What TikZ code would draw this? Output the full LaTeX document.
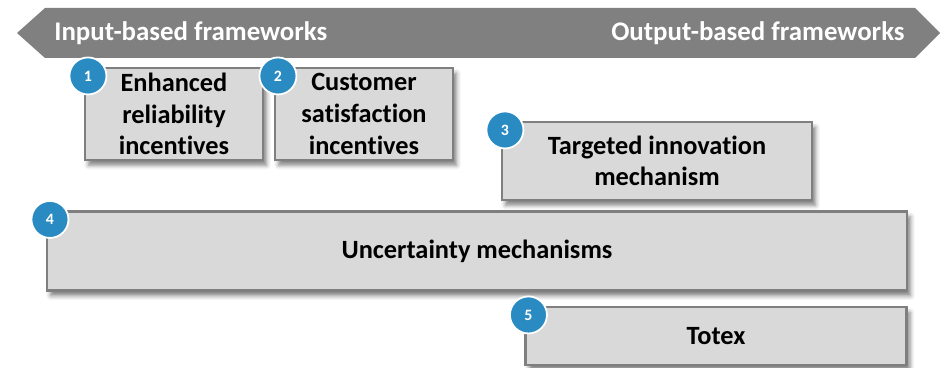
\documentclass[tikz,border=0pt]{standalone}
\usepackage{fontspec}
\setmainfont{Carlito}[Ligatures=NoCommon]
\usetikzlibrary{shadows.blur}
\definecolor{bannergray}{HTML}{808080}
\definecolor{boxgray}{HTML}{D9D9D9}
\definecolor{edgegray}{HTML}{7F7F7F}
\definecolor{badgeblue}{HTML}{2A8BC3}
\tikzstyle{lever} = [draw=edgegray, line width=1.2pt, fill=boxgray, align=center, inner sep=0pt,
  font=\fontsize{15}{18}\selectfont\bfseries,
  blur shadow={shadow xshift=2pt, shadow yshift=-3pt, shadow blur radius=2.5pt, shadow opacity=50}]
\tikzstyle{badge} = [circle, draw=white, line width=1pt, fill=badgeblue, minimum size=0.74cm, inner sep=0pt,
  text=white, font=\fontsize{9}{9}\selectfont\bfseries]
\tikzstyle{heading} = [text=white, inner sep=0pt, font=\fontsize{15.3}{18}\selectfont\bfseries]

\begin{document}
\begin{tikzpicture}[x=0.02cm, y=-0.02cm]
\useasboundingbox (0,0) rectangle (946,368);

% banner
\fill[bannergray] (45,8) -- (915,8) -- (940,33) -- (915,58) -- (45,58) -- (17,33) -- cycle;
\node[heading, anchor=west] (IN) at (54,33) {Input-based frameworks};
\node[heading, anchor=east] (OUT) at (905,33) {Output-based frameworks};

% levers with their numbers
\foreach \cx/\cy/\w/\h/\t [count=\n] in
{174/114/178/92/{Enhanced\\reliability\\incentives},
 364/114/178/92/{Customer\\satisfaction\\incentives},
 657/161/310/78/{Targeted innovation\\mechanism},
 477/251/860/79/{Uncertainty mechanisms},
 716/336/381/58/{Totex}}
{
\node[lever, minimum width=\w*0.02cm, minimum height=\h*0.02cm] (B\n) at (\cx,\cy) {\t};
\node[badge] (C\n) at ([shift={(4,9)}]B\n.north west) {\n};
}

\end{tikzpicture}
\end{document}
